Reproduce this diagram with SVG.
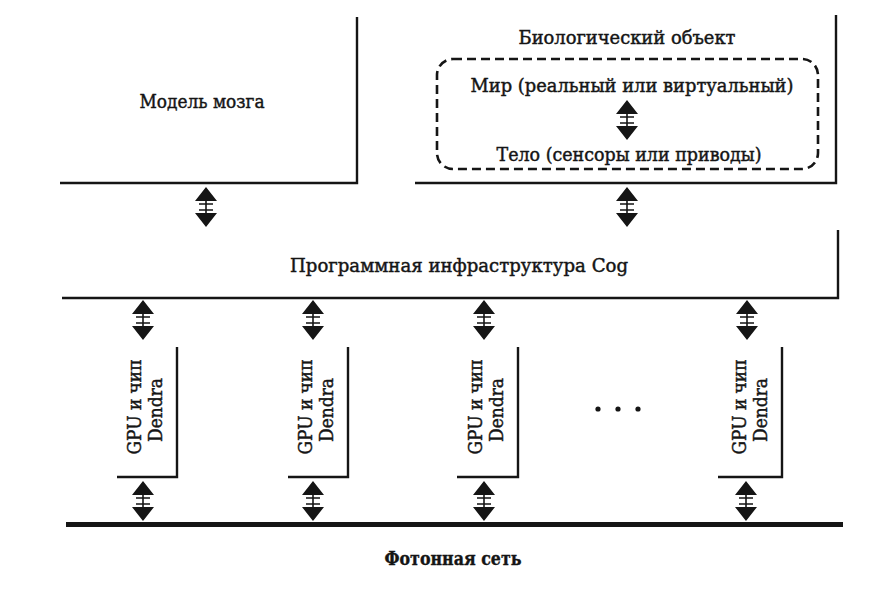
<svg xmlns="http://www.w3.org/2000/svg" xmlns:xlink="http://www.w3.org/1999/xlink" width="889" height="604" viewBox="0 0 889 604">
<style>
.t{font-family:"DejaVu Serif","Liberation Serif",serif;font-size:18px;fill:#151515;stroke:#151515;stroke-width:0.45;text-anchor:middle}
.b{font-weight:bold;font-size:19px;stroke-width:0.4}
.ln{fill:none;stroke:#151515;stroke-width:2.4}
.dash{fill:none;stroke:#151515;stroke-width:2.6;stroke-dasharray:9,5}
</style>
<defs>
<g id="arr">
<path d="M0,0 L11,14 L-11,14 Z M-11,26 L11,26 L0,40 Z" fill="#151515"/>
<path d="M0,14 V26 M-7,17 H7 M-7,23 H7" stroke="#151515" stroke-width="1.6"/>
</g>
</defs>
<rect width="889" height="604" fill="#fff"/>

<g id="model">
<path class="ln" d="M357,17 V183 H60"/>
<text class="t" x="202" y="108" textLength="125" lengthAdjust="spacingAndGlyphs">Модель мозга</text>
</g>

<g id="bio">
<path class="ln" d="M836,15 V183 H415"/>
<text class="t" x="627" y="44" textLength="217" lengthAdjust="spacingAndGlyphs">Биологический объект</text>
<rect class="dash" x="437" y="59" width="381" height="110" rx="16"/>
<g id="world">
<text class="t" x="632" y="92" textLength="323" lengthAdjust="spacingAndGlyphs">Мир (реальный или виртуальный)</text>
</g>
<g id="body">
<text class="t" x="629" y="161" textLength="265" lengthAdjust="spacingAndGlyphs">Тело (сенсоры или приводы)</text>
</g>
</g>

<g id="cog">
<path class="ln" d="M838,230 V298 H62"/>
<text class="t" x="459" y="272" textLength="338" lengthAdjust="spacingAndGlyphs">Программная инфраструктура Cog</text>
</g>

<g id="gpu1">
<path class="ln" d="M177,347 V477 H117"/>
<text class="t" transform="translate(141,407) rotate(-90)" textLength="95" lengthAdjust="spacingAndGlyphs">GPU и чип</text>
<text class="t" transform="translate(162,410) rotate(-90)" textLength="64" lengthAdjust="spacingAndGlyphs">Dendra</text>
</g>
<g id="gpu2">
<path class="ln" d="M348,347 V477 H288"/>
<text class="t" transform="translate(312,407) rotate(-90)" textLength="95" lengthAdjust="spacingAndGlyphs">GPU и чип</text>
<text class="t" transform="translate(333,410) rotate(-90)" textLength="64" lengthAdjust="spacingAndGlyphs">Dendra</text>
</g>
<g id="gpu3">
<path class="ln" d="M518,347 V477 H457"/>
<text class="t" transform="translate(482,407) rotate(-90)" textLength="95" lengthAdjust="spacingAndGlyphs">GPU и чип</text>
<text class="t" transform="translate(503,410) rotate(-90)" textLength="64" lengthAdjust="spacingAndGlyphs">Dendra</text>
</g>
<g id="gpu4">
<path class="ln" d="M782,347 V477 H718"/>
<text class="t" transform="translate(746,407) rotate(-90)" textLength="95" lengthAdjust="spacingAndGlyphs">GPU и чип</text>
<text class="t" transform="translate(767,410) rotate(-90)" textLength="64" lengthAdjust="spacingAndGlyphs">Dendra</text>
</g>
<g id="dots" fill="#151515">
<circle cx="598" cy="409" r="2.6"/>
<circle cx="618" cy="409" r="2.6"/>
<circle cx="638" cy="409" r="2.6"/>
</g>

<g id="network">
<rect x="66" y="522" width="777" height="5" fill="#151515"/>
<text class="t b" x="453" y="565" textLength="137" lengthAdjust="spacingAndGlyphs">Фотонная сеть</text>
</g>

<g id="connectors">
<use xlink:href="#arr" x="206" y="187"/>
<use xlink:href="#arr" x="627" y="187"/>
<use xlink:href="#arr" x="627" y="100"/>
<use xlink:href="#arr" x="143" y="300"/>
<use xlink:href="#arr" x="313" y="300"/>
<use xlink:href="#arr" x="484" y="300"/>
<use xlink:href="#arr" x="747" y="300"/>
<use xlink:href="#arr" x="143" y="481"/>
<use xlink:href="#arr" x="313" y="481"/>
<use xlink:href="#arr" x="484" y="481"/>
<use xlink:href="#arr" x="746" y="481"/>
</g>
</svg>
